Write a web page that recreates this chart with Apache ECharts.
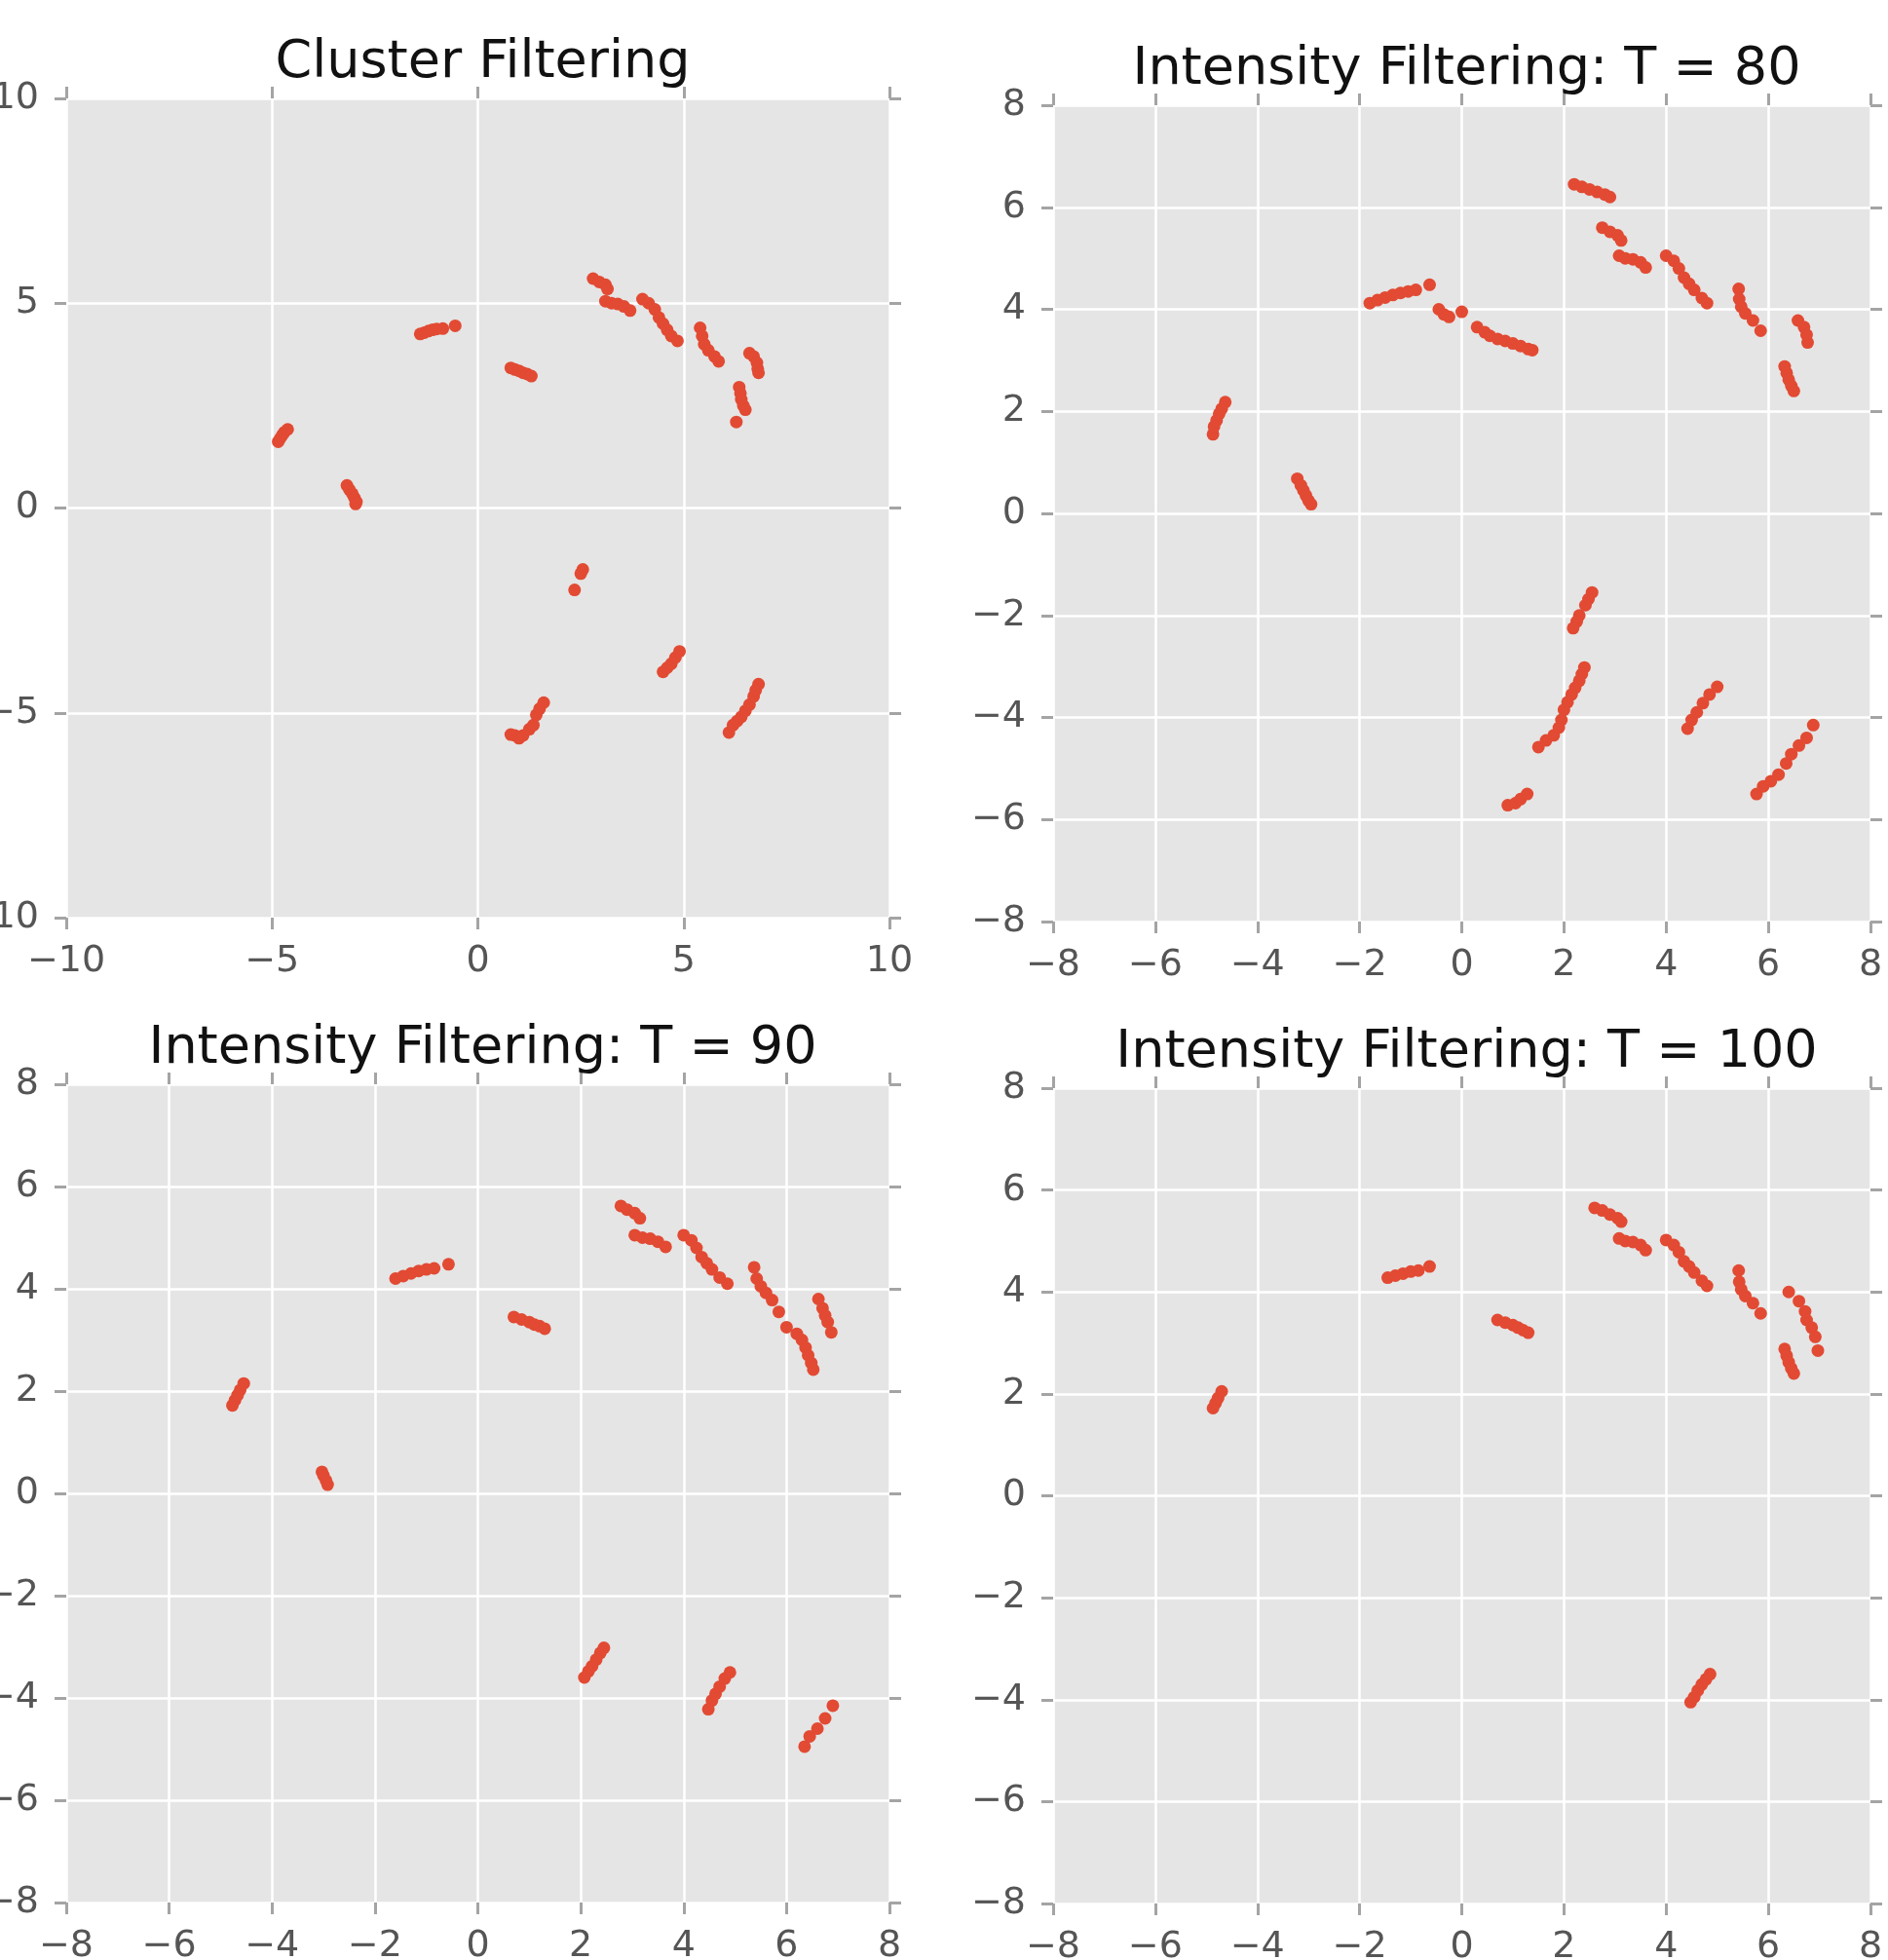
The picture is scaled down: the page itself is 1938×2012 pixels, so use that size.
<!DOCTYPE html>
<html>
<head>
<meta charset="utf-8">
<script src="https://cdn.jsdelivr.net/npm/echarts@6/dist/echarts.min.js"></script>
<style>
html,body{margin:0;padding:0;background:#ffffff;}
#chart{width:1938px;height:2012px;}
</style>
</head>
<body>
<div id="chart"></div>
<script>
// ---- Data ----
var panelTitles = ['Cluster Filtering', 'Intensity Filtering: T = 80', 'Intensity Filtering: T = 90', 'Intensity Filtering: T = 100'];

var clusterPts = [
  [-4.85,1.62],[-4.8,1.7],[-4.75,1.78],[-4.7,1.85],[-4.62,1.92],
  [-3.18,0.55],[-3.12,0.45],[-3.05,0.35],[-3.0,0.25],[-2.95,0.15],[-2.97,0.1],
  [-1.4,4.25],[-1.3,4.28],[-1.2,4.32],[-1.1,4.35],[-1.0,4.37],[-0.85,4.38],[-0.55,4.45],
  [0.8,3.42],[0.9,3.38],[1.0,3.35],[1.1,3.3],[1.2,3.27],[1.3,3.22],
  [2.8,5.6],[2.95,5.52],[3.1,5.45],[3.15,5.35],
  [3.1,5.05],[3.25,5.0],[3.4,4.98],[3.55,4.92],[3.7,4.82],
  [4.0,5.1],[4.15,5.0],[4.3,4.85],[4.4,4.65],[4.5,4.5],[4.6,4.35],[4.7,4.2],[4.85,4.08],
  [5.4,4.4],[5.45,4.2],[5.5,4.0],[5.6,3.85],[5.75,3.7],[5.85,3.58],
  [6.6,3.78],[6.7,3.7],[6.78,3.55],[6.8,3.4],[6.82,3.3],
  [6.35,2.95],[6.38,2.8],[6.4,2.65],[6.45,2.5],[6.5,2.4],[6.28,2.1],
  [2.55,-1.5],[2.5,-1.6],[2.35,-2.0],
  [4.5,-4.0],[4.6,-3.9],[4.7,-3.8],[4.8,-3.65],[4.9,-3.5],
  [0.8,-5.53],[0.9,-5.55],[1.0,-5.62],[1.1,-5.55],[1.25,-5.4],[1.35,-5.3],[1.42,-5.05],[1.5,-4.9],[1.6,-4.75],
  [6.1,-5.48],[6.2,-5.3],[6.3,-5.2],[6.4,-5.1],[6.5,-4.95],[6.6,-4.8],[6.7,-4.6],[6.75,-4.45],[6.82,-4.3]
];

var t80Pts = [
  [-4.87,1.55],[-4.85,1.7],[-4.8,1.82],[-4.75,1.95],[-4.7,2.05],[-4.63,2.18],
  [-3.22,0.68],[-3.15,0.55],[-3.1,0.45],[-3.05,0.35],[-3.0,0.25],[-2.95,0.18],
  [-1.8,4.12],[-1.65,4.18],[-1.5,4.23],[-1.35,4.28],[-1.2,4.32],[-1.05,4.35],[-0.9,4.38],[-0.63,4.48],
  [-0.45,4.0],[-0.35,3.9],[-0.25,3.85],[0.0,3.95],
  [0.3,3.65],[0.45,3.55],[0.55,3.48],[0.7,3.42],[0.85,3.38],[1.0,3.33],[1.15,3.28],[1.3,3.22],[1.38,3.2],
  [2.2,6.45],[2.35,6.4],[2.5,6.35],[2.65,6.3],[2.8,6.25],[2.9,6.2],
  [2.75,5.6],[2.9,5.52],[3.05,5.45],[3.12,5.35],
  [3.08,5.05],[3.2,5.0],[3.35,4.98],[3.5,4.92],[3.6,4.82],
  [4.0,5.05],[4.15,4.95],[4.25,4.8],[4.35,4.62],[4.45,4.5],[4.55,4.38],[4.7,4.22],[4.8,4.12],
  [5.42,4.4],[5.43,4.2],[5.47,4.05],[5.55,3.92],[5.7,3.78],[5.85,3.58],
  [6.58,3.78],[6.7,3.65],[6.75,3.5],[6.77,3.35],
  [6.32,2.88],[6.36,2.75],[6.4,2.62],[6.45,2.5],[6.5,2.4],
  [2.55,-1.55],[2.48,-1.68],[2.42,-1.8],[2.3,-2.0],[2.25,-2.12],[2.18,-2.25],
  [2.4,-3.02],[2.35,-3.15],[2.3,-3.28],[2.22,-3.42],[2.15,-3.55],[2.07,-3.7],[2.0,-3.85],[1.95,-4.05],[1.9,-4.2],[1.8,-4.35],[1.65,-4.45],[1.5,-4.58],
  [0.9,-5.72],[1.05,-5.68],[1.15,-5.6],[1.28,-5.5],
  [4.42,-4.22],[4.5,-4.05],[4.6,-3.9],[4.72,-3.72],[4.85,-3.55],[5.0,-3.4],
  [5.77,-5.5],[5.9,-5.35],[6.05,-5.25],[6.2,-5.12],[6.35,-4.9],[6.45,-4.72],[6.6,-4.55],[6.75,-4.4],[6.88,-4.15]
];

var t90Pts = [
  [-4.77,1.72],[-4.72,1.82],[-4.67,1.92],[-4.62,2.02],[-4.55,2.15],
  [-3.03,0.42],[-3.0,0.35],[-2.95,0.25],[-2.92,0.17],
  [-1.6,4.2],[-1.45,4.25],[-1.3,4.3],[-1.15,4.35],[-1.0,4.38],[-0.85,4.4],[-0.57,4.48],
  [0.7,3.45],[0.85,3.4],[1.0,3.35],[1.1,3.3],[1.2,3.27],[1.3,3.22],
  [2.78,5.62],[2.9,5.55],[3.05,5.48],[3.15,5.38],
  [3.05,5.05],[3.2,5.0],[3.35,4.98],[3.5,4.92],[3.65,4.82],
  [4.0,5.05],[4.15,4.95],[4.25,4.8],[4.35,4.62],[4.45,4.5],[4.55,4.38],[4.7,4.22],[4.85,4.1],
  [5.37,4.42],[5.42,4.2],[5.5,4.05],[5.6,3.92],[5.72,3.78],[5.85,3.55],
  [6.0,3.25],[6.2,3.12],[6.3,3.0],[6.37,2.85],[6.42,2.7],[6.48,2.55],[6.52,2.42],
  [6.62,3.8],[6.7,3.62],[6.75,3.48],[6.8,3.35],[6.87,3.15],
  [2.45,-3.02],[2.38,-3.12],[2.3,-3.25],[2.22,-3.38],[2.15,-3.48],[2.07,-3.6],
  [4.48,-4.22],[4.55,-4.05],[4.62,-3.92],[4.7,-3.78],[4.8,-3.62],[4.9,-3.5],
  [6.35,-4.95],[6.45,-4.75],[6.6,-4.6],[6.75,-4.4],[6.9,-4.15]
];

var t100Pts = [
  [-4.87,1.72],[-4.82,1.82],[-4.77,1.92],[-4.7,2.05],
  [-1.45,4.28],[-1.3,4.32],[-1.15,4.36],[-1.0,4.4],[-0.85,4.42],[-0.63,4.5],
  [0.7,3.45],[0.85,3.4],[1.0,3.35],[1.1,3.3],[1.2,3.25],[1.3,3.2],
  [2.6,5.65],[2.75,5.6],[2.9,5.52],[3.05,5.45],[3.12,5.38],
  [3.08,5.05],[3.2,5.0],[3.35,4.98],[3.5,4.92],[3.6,4.82],
  [4.0,5.02],[4.15,4.92],[4.25,4.78],[4.35,4.6],[4.45,4.5],[4.55,4.38],[4.7,4.22],[4.8,4.12],
  [5.42,4.42],[5.43,4.2],[5.47,4.05],[5.55,3.92],[5.7,3.78],[5.85,3.58],
  [6.4,4.0],[6.6,3.82],[6.72,3.62],[6.75,3.45],[6.85,3.3],[6.92,3.12],[6.97,2.85],
  [6.32,2.88],[6.36,2.75],[6.4,2.62],[6.45,2.5],[6.5,2.4],
  [4.48,-4.05],[4.55,-3.95],[4.62,-3.82],[4.7,-3.7],[4.78,-3.6],[4.86,-3.5]
];

var panelData = [clusterPts, t80Pts, t90Pts, t100Pts];
var axisMin = [-10, -8, -8, -8];
var axisMax = [10, 8, 8, 8];
var axisStep = [5, 2, 2, 2];

// ---- Layout / style ----
var gridBoxes = [
  {left: 68, top: 101, width: 845, height: 841},
  {left: 1081, top: 108, width: 839, height: 838},
  {left: 68, top: 1113, width: 845, height: 840},
  {left: 1081, top: 1117, width: 839, height: 837}
];
var FONT = 'DejaVu Sans';
var tickStyle = {show: true, inside: false, length: 12, lineStyle: {color: '#a4a4a4', width: 3}};
function fmt(v) { return String(v).replace('-', '\u2212'); }

var grids = [], xAxes = [], yAxes = [], series = [], titles = [];
gridBoxes.forEach(function (g, i) {
  grids.push({left: g.left, top: g.top, width: g.width, height: g.height, show: true,
    backgroundColor: '#E5E5E5', borderWidth: 0, containLabel: false, outerBoundsMode: 'none'});
  var common = {type: 'value', gridIndex: i, min: axisMin[i], max: axisMax[i], interval: axisStep[i],
    axisLine: {show: false, onZero: false}, axisTick: tickStyle};
  xAxes.push(Object.assign({}, common, {position: 'bottom',
    axisLabel: {show: true, margin: 26, color: '#555555', fontSize: 38, fontFamily: FONT, formatter: fmt},
    splitLine: {show: true, lineStyle: {color: '#ffffff', width: 2.5}}}));
  xAxes.push(Object.assign({}, common, {position: 'top', axisLabel: {show: false}, splitLine: {show: false}}));
  yAxes.push(Object.assign({}, common, {position: 'left',
    axisLabel: {show: true, margin: 28, color: '#555555', fontSize: 38, fontFamily: FONT, formatter: fmt},
    splitLine: {show: true, lineStyle: {color: '#ffffff', width: 2.5}}}));
  yAxes.push(Object.assign({}, common, {position: 'right', axisLabel: {show: false}, splitLine: {show: false}}));
  series.push({type: 'scatter', xAxisIndex: 2 * i, yAxisIndex: 2 * i, data: panelData[i],
    symbol: 'circle', symbolSize: 13, itemStyle: {color: '#E24A33', opacity: 1}, silent: true});
  titles.push({text: panelTitles[i], left: g.left + g.width / 2, top: g.top - 68, textAlign: 'center',
    textStyle: {fontFamily: FONT, fontSize: 54, fontWeight: 'normal', color: '#111111', lineHeight: 54}});
});

var chart = echarts.init(document.getElementById('chart'), null, {renderer: 'canvas'});
chart.setOption({
  animation: false,
  backgroundColor: '#ffffff',
  title: titles,
  grid: grids,
  xAxis: xAxes,
  yAxis: yAxes,
  series: series
});
</script>
</body>
</html>
